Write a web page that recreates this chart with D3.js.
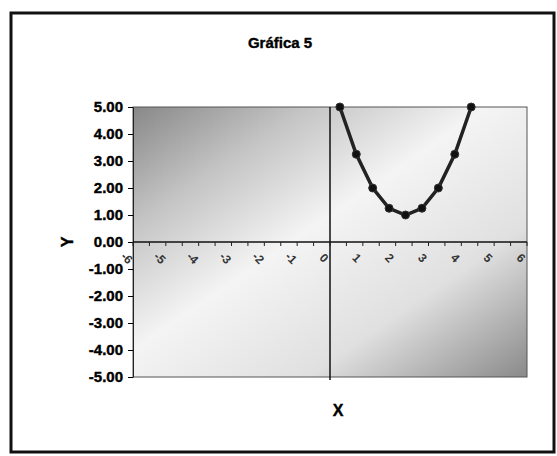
<!DOCTYPE html>
<html>
<head>
<meta charset="utf-8">
<script src="https://cdn.jsdelivr.net/npm/d3@7"></script>
<style>
body{margin:0;background:#fff;}
text{font-family:"Liberation Sans",Arial,sans-serif;font-weight:bold;}
</style>
</head>
<body>
<svg id="svg" width="557" height="456"></svg>
<script>
// points
var xs=[0.3,0.8,1.3,1.8,2.3,2.8,3.3,3.8,4.3];
var ys=[5,3.25,2,1.25,1,1.25,2,3.25,5];
var yticks=[5,4,3,2,1,0,-1,-2,-3,-4,-5];
var xticks=[-6,-5,-4,-3,-2,-1,0,1,2,3,4,5,6];
var xminor=d3.range(-6,6.01,0.5);

var svg=d3.select("#svg");
var padding={top:107,right:30,bottom:79,left:133};
var chartarea={"width":527-padding.left,"height":377-padding.top};

var xscale=d3.scaleLinear().domain([-6,6]).range([0,chartarea.width]);
var yscale=d3.scaleLinear().domain([-5,5]).range([chartarea.height,0]);

// outer frame
svg.append("rect").attr("x",11).attr("y",13).attr("width",543).attr("height",439)
.attr("fill","#fff").attr("stroke","#111").attr("stroke-width",3);

svg.append("text").attr("x",280).attr("y",48).attr("text-anchor","middle")
.attr("font-size",15).attr("stroke","#000").attr("stroke-width",0.4).text("Gráfica 5");

var defs=svg.append("defs");
var grad=defs.append("linearGradient").attr("id","bg")
.attr("x1","0").attr("y1","0").attr("x2","1").attr("y2","1");
grad.append("stop").attr("offset","0%").attr("stop-color","#888");
grad.append("stop").attr("offset","22%").attr("stop-color","#c4c4c4");
grad.append("stop").attr("offset","45%").attr("stop-color","#f4f4f4");
grad.append("stop").attr("offset","72%").attr("stop-color","#e0e0e0");
grad.append("stop").attr("offset","100%").attr("stop-color","#8a8a8a");

var g=svg.append("g").attr("transform","translate("+padding.left+","+padding.top+")");

g.append("rect").attr("width",chartarea.width).attr("height",chartarea.height)
.attr("fill","url(#bg)").attr("stroke","#555").attr("stroke-width",1);

// y axis labels at the left edge
var yaxis=g.append("g").call(d3.axisLeft(yscale).tickValues(yticks)
.tickFormat(function(d){return d.toFixed(2);}).tickSize(5).tickSizeOuter(0));
yaxis.select(".domain").attr("stroke","#222");
yaxis.selectAll("text").attr("font-size",15).attr("font-family","Liberation Sans, Arial, sans-serif")
.attr("font-weight","bold").attr("fill","#000").attr("stroke","#000").attr("stroke-width",0.4).attr("dx",-2);

// vertical axis line at x=0
g.append("line").attr("x1",xscale(0)).attr("x2",xscale(0))
.attr("y1",0).attr("y2",chartarea.height+3).attr("stroke","#111").attr("stroke-width",1.5);

// horizontal axis at y=0
var xaxis=g.append("g").attr("transform","translate(0,"+yscale(0)+")");
xaxis.append("line").attr("x1",0).attr("x2",chartarea.width).attr("stroke","#111").attr("stroke-width",1.5);
xaxis.selectAll("line.tk").data(xminor).enter().append("line").attr("class","tk")
.attr("x1",function(d){return xscale(d);}).attr("x2",function(d){return xscale(d);})
.attr("y1",0).attr("y2",4).attr("stroke","#222");
xaxis.selectAll("text").data(xticks).enter().append("text")
.attr("transform",function(d){return "translate("+(xscale(d)-6)+",16) rotate(45)";})
.attr("text-anchor","middle").attr("dy","0.35em").attr("font-size",12).attr("fill","#333")
.text(function(d){return d;});

var line=d3.line().x(function(d,i){return xscale(xs[i]);}).y(function(d){return yscale(d);});
g.append("path").datum(ys).attr("d",line).attr("fill","none")
.attr("stroke","#222").attr("stroke-width",3.5);
g.selectAll("circle").data(ys).enter().append("circle")
.attr("cx",function(d,i){return xscale(xs[i]);}).attr("cy",function(d){return yscale(d);})
.attr("r",4).attr("fill","#111").attr("stroke","#333");

svg.append("text").attr("x",338).attr("y",416).attr("text-anchor","middle")
.attr("font-size",16).attr("stroke","#000").attr("stroke-width",0.4).text("X");
svg.append("text").attr("transform","translate(73,242) rotate(-90)")
.attr("text-anchor","middle").attr("font-size",16).attr("stroke","#000").attr("stroke-width",0.4).text("Y");
</script>
</body>
</html>
